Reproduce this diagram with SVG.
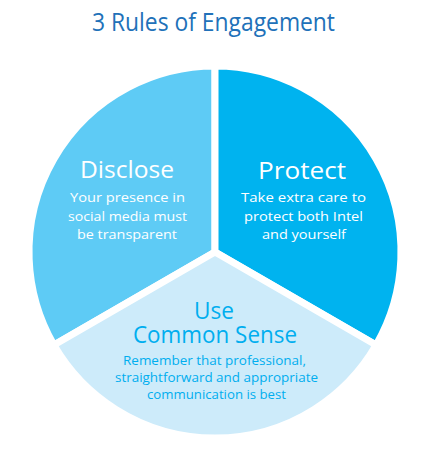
<svg xmlns="http://www.w3.org/2000/svg" width="440" height="449" viewBox="0 0 440 449">
<style>
.w{stroke:#fff;stroke-width:7;stroke-linejoin:round}
text{font-family:"Open Sans","Liberation Sans",sans-serif;text-anchor:middle}
.h{font-size:23.5px}
.b{font-size:13.5px}
.wt{fill:#fff}
.bt{fill:#00AEEF}
</style>
<rect width="440" height="449" fill="#fff"/>
<text x="213.5" y="31" font-size="25" fill="#2171B9" textLength="243" lengthAdjust="spacingAndGlyphs">3 Rules of Engagement</text>
<g id="disclose">
<path class="w" fill="#5ECBF5" d="M215,252 L215,66 A186,186 0 0 0 53.92,345 Z"/>
<text class="h wt" x="127" y="178" textLength="94" lengthAdjust="spacingAndGlyphs">Disclose</text>
<text class="b wt" x="127.5" y="202" textLength="115" lengthAdjust="spacingAndGlyphs">Your presence in</text>
<text class="b wt" x="127.5" y="221" textLength="119" lengthAdjust="spacingAndGlyphs">social media must</text>
<text class="b wt" x="127" y="239" textLength="100" lengthAdjust="spacingAndGlyphs">be transparent</text>
</g>
<g id="protect">
<path class="w" fill="#00B3EF" d="M215,252 L215,66 A186,186 0 0 1 376.08,345 Z"/>
<text class="h wt" x="302" y="179" textLength="88" lengthAdjust="spacingAndGlyphs">Protect</text>
<text class="b wt" x="303.5" y="202" textLength="125" lengthAdjust="spacingAndGlyphs">Take extra care to</text>
<text class="b wt" x="303.5" y="221" textLength="119" lengthAdjust="spacingAndGlyphs">protect both Intel</text>
<text class="b wt" x="304" y="239" textLength="84" lengthAdjust="spacingAndGlyphs">and yourself</text>
</g>
<g id="common-sense">
<path class="w" fill="#CDEBFA" d="M215,252 L376.08,345 A186,186 0 0 1 53.92,345 Z"/>
<text class="h bt"><tspan x="214" y="318.5" textLength="40" lengthAdjust="spacingAndGlyphs">Use</tspan><tspan x="215" y="343" textLength="164" lengthAdjust="spacingAndGlyphs">Common Sense</tspan></text>
<text class="b bt" x="214.5" y="365" textLength="183" lengthAdjust="spacingAndGlyphs">Remember that professional,</text>
<text class="b bt" x="216.5" y="382" textLength="203" lengthAdjust="spacingAndGlyphs">straightforward and appropriate</text>
<text class="b bt" x="216.5" y="399" textLength="139" lengthAdjust="spacingAndGlyphs">communication is best</text>
</g>
<g id="connectors"/>
</svg>
